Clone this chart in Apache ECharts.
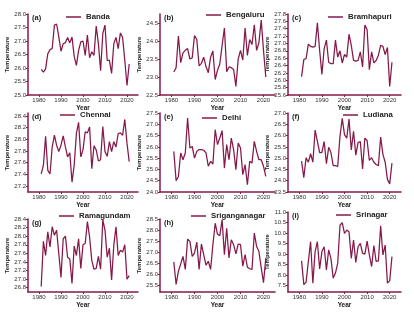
<!DOCTYPE html>
<html>
<head>
<meta charset="utf-8">
<script src="https://cdn.jsdelivr.net/npm/echarts@6/dist/echarts.min.js"></script>
<style>html,body{margin:0;padding:0;background:#fff}#c{width:414px;height:316px}</style>
</head>
<body>
<div id="c"></div>
<script>
const years = [1981,1982,1983,1984,1985,1986,1987,1988,1989,1990,1991,1992,1993,1994,1995,1996,1997,1998,1999,2000,2001,2002,2003,2004,2005,2006,2007,2008,2009,2010,2011,2012,2013,2014,2015,2016,2017,2018,2019,2020,2021];
const xTicks = [1980,1990,2000,2010,2020];

const banda = [25.95,25.85,25.97,26.53,26.68,26.72,27.59,27.63,27.15,26.62,26.9,26.94,27.13,26.93,27.15,26.43,26.1,26.65,26.97,27.0,26.47,27.22,26.38,26.6,26.47,27.55,26.9,25.9,27.28,27.59,26.28,26.28,25.8,26.9,27.13,26.72,27.3,27.13,26.28,25.35,26.15];
const bengaluru = [23.14,23.26,24.14,23.4,23.67,23.74,23.79,23.5,23.53,24.15,24.04,23.31,23.38,23.55,23.29,23.12,23.55,23.72,22.93,23.19,23.36,23.88,24.36,23.15,23.28,23.26,23.21,22.74,23.5,23.74,23.47,24.36,23.6,24.04,23.9,24.45,23.74,23.95,24.58,23.74,23.0];
const bramhapuri = [26.1,26.56,26.59,26.98,26.92,26.9,26.92,27.56,26.81,26.16,26.86,27.09,26.49,26.45,26.45,27.09,26.63,26.8,26.47,26.7,26.63,27.25,26.95,26.54,26.52,26.54,26.77,26.36,27.5,27.38,26.29,26.77,26.47,26.54,26.68,26.95,26.92,26.7,26.89,25.83,26.49];
const chennai = [27.41,27.56,28.05,27.47,27.41,27.87,28.07,27.9,27.79,27.9,28.06,27.87,27.7,27.77,27.27,27.56,28.1,28.29,27.7,27.82,28.13,28.11,28.21,27.5,27.89,27.82,27.63,27.65,28.22,27.79,27.71,27.96,27.79,27.96,27.87,28.1,28.11,28.07,28.34,27.93,27.62];
const delhi = [25.8,24.5,24.69,25.73,25.43,25.73,27.28,25.95,26.02,25.5,25.8,25.88,25.88,25.85,25.73,25.14,25.36,25.24,26.76,26.1,26.39,26.72,25.06,26.1,25.43,26.39,25.88,24.99,26.17,25.95,24.77,25.21,24.32,25.36,25.28,26.24,25.8,25.43,25.43,25.14,24.69];
const ludiana = [24.87,24.14,25.02,24.82,25.2,24.82,26.24,25.74,25.25,25.25,25.74,24.75,25.48,25.25,24.67,24.67,24.63,25.97,26.76,26.04,25.89,26.73,25.36,26.19,25.13,25.69,25.74,24.52,25.89,25.78,24.9,25.02,24.82,24.72,24.67,25.93,25.17,24.82,24.06,23.86,24.78];
const ramagundam = [26.83,27.88,27.55,28.1,27.75,28.22,28.02,28.14,27.59,27.04,27.94,28.0,27.51,27.47,26.9,27.77,27.55,27.94,27.25,27.8,27.83,28.34,27.98,27.43,27.23,27.25,27.53,27.23,28.38,28.14,27.51,27.72,26.98,27.79,28.22,27.55,27.67,27.63,27.8,27.0,27.08];
const sriganganagar = [26.56,25.54,26.14,26.47,26.81,26.22,27.59,27.49,26.81,26.96,27.46,26.22,27.37,26.89,26.41,26.59,26.22,27.34,28.31,27.81,27.75,28.46,26.89,28.08,26.74,27.56,27.34,26.92,27.37,27.34,26.37,26.89,26.32,26.25,26.22,27.86,27.26,27.04,26.3,25.62,26.74];
const srinagar = [8.68,7.55,7.67,8.65,9.59,7.62,9.12,9.59,8.3,9.12,9.35,8.25,9.2,8.8,7.86,8.1,8.57,10.37,10.5,9.98,10.14,10.06,8.8,9.67,8.61,9.35,9.51,9.04,9.0,9.62,8.96,8.41,9.4,8.65,8.68,10.34,8.96,9.43,7.62,7.73,8.88];

const ticksA = [25.0,25.5,26.0,26.5,27.0,27.5,28.0];
const ticksB = [22.5,23.0,23.5,24.0,24.5];
const ticksC = [25.6,25.8,26.0,26.2,26.4,26.6,26.8,27.0,27.2,27.4,27.6,27.8];
const ticksD = [27.2,27.4,27.6,27.8,28.0,28.2,28.4];
const ticksE = [24.0,24.5,25.0,25.5,26.0,26.5,27.0,27.5];
const ticksF = [23.5,24.0,24.5,25.0,25.5,26.0,26.5,27.0];
const ticksG = [26.8,27.0,27.2,27.4,27.6,27.8,28.0,28.2,28.4];
const ticksH = [25.5,26.0,26.5,27.0,27.5,28.0,28.5];
const ticksI = [7.5,8.0,8.5,9.0,9.5,10.0,10.5,11.0];

const panels = [
  {name:'Banda', tag:'(a)', data:banda, ticks:ticksA, min:25.0, max:28.0},
  {name:'Bengaluru', tag:'(b)', data:bengaluru, ticks:ticksB, min:22.5, max:24.75},
  {name:'Bramhapuri', tag:'(c)', data:bramhapuri, ticks:ticksC, min:25.6, max:27.8},
  {name:'Chennai', tag:'(d)', data:chennai, ticks:ticksD, min:27.1, max:28.45},
  {name:'Delhi', tag:'(e)', data:delhi, ticks:ticksE, min:24.0, max:27.5},
  {name:'Ludiana', tag:'(f)', data:ludiana, ticks:ticksF, min:23.5, max:27.0},
  {name:'Ramagundam', tag:'(g)', data:ramagundam, ticks:ticksG, min:26.7, max:28.4},
  {name:'Sriganganagar', tag:'(h)', data:sriganganagar, ticks:ticksH, min:25.2, max:28.5},
  {name:'Srinagar', tag:'(i)', data:srinagar, ticks:ticksI, min:7.2, max:11.0}
];

const COLOR = '#86194a';
const FONT = 'Liberation Sans, Arial, sans-serif';
const cols = [{left:28,width:110},{left:160,width:115},{left:288,width:113}];
const rows = [{top:14,height:81},{top:113,height:79},{top:219,height:73}];
const legendPos = [[66,18],[206,16],[328,18],[60,116],[202,119],[343,116],[59,217],[191,217],[336,216]];

const grid = [], xAxis = [], yAxis = [], series = [], legend = [], graphic = [];
panels.forEach((p, i) => {
  const c = cols[i % 3], r = rows[Math.floor(i / 3)];
  let top = r.top, height = r.height;
  if (i === 8) { top = 212; height = 80; }
  grid.push({left:c.left, top:top, width:c.width, height:height});
  xAxis.push({
    type:'value', gridIndex:i, min:1975, max:2025,
    name:'Year', nameLocation:'middle', nameGap:10,
    nameTextStyle:{fontFamily:FONT, fontSize:6.5, fontWeight:'bold', color:'#222'},
    axisLine:{lineStyle:{color:COLOR, width:1.5}},
    axisTick:{show:true, length:2, customValues:xTicks, lineStyle:{color:COLOR, width:1}},
    axisLabel:{customValues:xTicks, margin:2, fontFamily:FONT, fontSize:6, color:'#333', formatter:v => String(v)},
    splitLine:{show:false}
  });
  yAxis.push({
    type:'value', gridIndex:i, min:p.min, max:p.max,
    name:'Temperature', nameLocation:'middle', nameGap: (i % 3 === 0) ? 17 : 16,
    nameTextStyle:{fontFamily:FONT, fontSize:6, fontWeight:'bold', color:'#222'},
    axisLine:{show:true, lineStyle:{color:COLOR, width:1.5}},
    axisTick:{show:true, length:2, customValues:p.ticks, lineStyle:{color:COLOR, width:1}},
    axisLabel:{customValues:p.ticks, margin:2, fontFamily:FONT, fontSize:6, color:'#333', formatter:v => Number(v).toFixed(1)},
    splitLine:{show:false}
  });
  series.push({
    type:'line', name:p.name, xAxisIndex:i, yAxisIndex:i,
    data: years.map((y, k) => [y, p.data[k]]),
    symbol:'none', lineStyle:{color:COLOR, width:1.25}, itemStyle:{color:COLOR},
    animation:false
  });
  legend.push({
    data:[p.name], left:legendPos[i][0], top:legendPos[i][1] - 5, padding:0,
    icon:'rect', itemWidth:15, itemHeight:1.5,
    textStyle:{fontFamily:FONT, fontSize:7.8, fontWeight:'bold', color:'#222'},
    selectedMode:false
  });
  graphic.push({
    type:'text', left:c.left + 4, top:top + 0,
    style:{text:p.tag, font:'bold 7.5px ' + FONT, fill:'#222'}
  });
});

const chart = echarts.init(document.getElementById('c'), null, {renderer:'canvas'});
chart.setOption({animation:false, grid, xAxis, yAxis, series, legend, graphic});
</script>
</body>
</html>
